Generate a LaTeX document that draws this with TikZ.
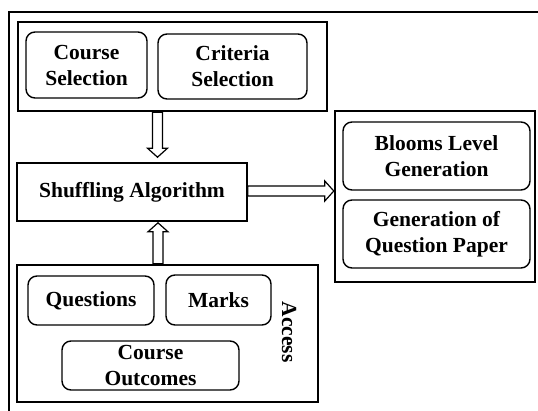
\documentclass[tikz,border=0pt]{standalone}
\usepackage{fontspec}
\setmainfont{Liberation Serif}
\usetikzlibrary{calc}
\tikzset{
  x=1pt, y=-1pt,
  every node/.style={font=\bfseries\fontsize{21.5}{26}\selectfont, align=center, inner sep=0pt},
  group/.style={draw, line width=2.4pt, rectangle},
  item/.style={draw, line width=1.4pt, rounded corners=9pt},
  plainbox/.style={draw, line width=1.6pt, rectangle},
  hollow/.style={draw, line width=1.2pt, fill=white, line join=miter},
}
% hollow block arrow from #1 to #2 (shaft 10pt wide, head 20pt wide, 9pt long)
\newcommand\hollowarrow[2]{%
  \draw[hollow] let \p1=(#1), \p2=(#2),
      \n1={atan2(\y2-\y1,\x2-\x1)}, \n2={veclen(\x2-\x1,\y2-\y1)} in
    [shift={(\p1)}, rotate=\n1]
    (0pt,-5pt) -- (\n2-9pt,-5pt) -- (\n2-9pt,-10pt) -- (\n2,0pt)
    -- (\n2-9pt,10pt) -- (\n2-9pt,5pt) -- (0pt,5pt) -- cycle;}
\begin{document}
\begin{tikzpicture}
\useasboundingbox (0,0) rectangle (538,410);
% page frame
\draw[line width=2pt] (9,415) -- (9,12) -- (545,12);

% selection group
\node[group, minimum width=309, minimum height=89] (sel) at (172.5,66.5) {};
\node[item, minimum width=121, minimum height=66] (course) at (86.5,65) {Course\\Selection};
\node[item, minimum width=149, minimum height=65] (criteria) at (232.5,66.5) {Criteria\\Selection};

% algorithm
\node[plainbox, minimum width=230, minimum height=58] (shuffle) at (132,192) {Shuffling Algorithm};

% outputs
\node[group, minimum width=200, minimum height=171] (out) at (435,196.5) {};
\node[item, minimum width=187, minimum height=68] (blooms) at (436.5,156) {Blooms Level\\Generation};
\node[item, minimum width=187, minimum height=68] (paper) at (436.5,234) {Generation of\\Question Paper};

% access group
\node[group, minimum width=301, minimum height=137] (acc) at (167.5,333.5) {};
\node[item, minimum width=126, minimum height=49] (quest) at (91,300.5) {Questions};
\node[item, minimum width=105, minimum height=50] (marks) at (218.5,300) {Marks};
\node[item, minimum width=177, minimum height=49] (outcomes) at (150.5,365.5) {Course\\Outcomes};
\node[rotate=-90] (acclabel) at (289,332) {Access};

% connectors
\coordinate (dA) at ([xshift=-15pt]sel.south);
\coordinate (dB) at ($(dA)+(0,45)$);
\hollowarrow{dA}{dB}
\coordinate (uA) at (acc.north -| 158,0);
\coordinate (uB) at ([yshift=-1pt]shuffle.south -| 158,0);
\hollowarrow{uA}{uB}
\coordinate (rA) at ([yshift=1pt]shuffle.east);
\coordinate (rB) at (out.west |- rA);
\hollowarrow{rA}{rB}
\end{tikzpicture}
\end{document}
